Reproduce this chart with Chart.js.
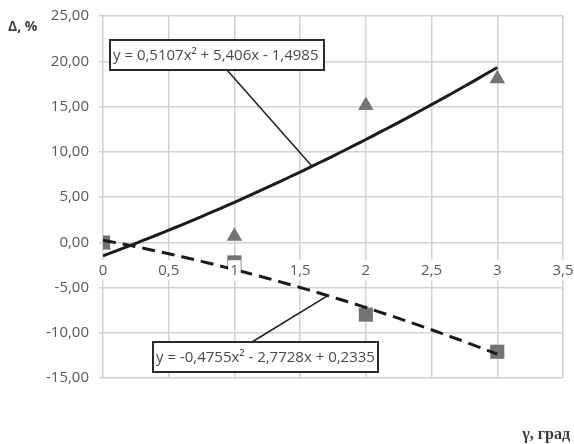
<!DOCTYPE html>
<html>
<head>
<meta charset="utf-8">
<script src="https://cdn.jsdelivr.net/npm/chart.js@4.4.1/dist/chart.umd.min.js"></script>
<style>
  html, body { margin: 0; padding: 0; background: #ffffff; }
  #wrap { position: relative; width: 574px; height: 444px; }
</style>
</head>
<body>
<div id="wrap"><canvas id="chart" width="574" height="444"></canvas></div>
<script>
// Measured deviation Δ (%) against angle γ (degrees)
const angles = [0, 1, 2, 3];
const triangleValues = [-0.25, 0.67, 15.11, 18.07];
const squareValues = [-0.03, -2.23, -8.0, -12.1];

// Quadratic trend coefficients [a, b, c] for y = a·x² + b·x + c
const upperTrend = [0.5107, 5.406, -1.4985];
const lowerTrend = [-0.4755, -2.7728, 0.2335];
const upperTrendText = 'y = 0,5107x² + 5,406x - 1,4985';
const lowerTrendText = 'y = -0,4755x² - 2,7728x + 0,2335';

// Axis tick labels
const xTickValues = [0, 0.5, 1, 1.5, 2, 2.5, 3, 3.5];
const xTickLabels = ['0', '0,5', '1', '1,5', '2', '2,5', '3', '3,5'];
const yTickValues = [-15, -10, -5, 0, 5, 10, 15, 20, 25];
const yTickLabels = ['-15,00', '-10,00', '-5,00', '0,00', '5,00', '10,00', '15,00', '20,00', '25,00'];

const yAxisTitle = 'Δ, %';
const xAxisTitle = 'γ, град';

function trend(c, x) { return c[0] * x * x + c[1] * x + c[2]; }
function trendPoints(c) {
  const pts = [];
  for (let i = 0; i <= 60; i++) {
    const x = i * 0.05;
    pts.push({ x: x, y: trend(c, x) });
  }
  return pts;
}
function pairs(xs, ys) { return xs.map((x, i) => ({ x: x, y: ys[i] })); }

function labelFor(values, labels, v) {
  const i = values.findIndex(t => Math.abs(t - v) < 1e-9);
  return i >= 0 ? labels[i] : '';
}

const FONT = "'Open Sans', 'Liberation Sans', sans-serif";
const TEXT = '#595959';
const GRID = '#d2d2d2';

// Equation boxes with leader lines to the curves
const trendLabels = {
  id: 'trendLabels',
  afterDatasetsDraw(chart) {
    const ctx = chart.ctx;
    const xs = chart.scales.x, ys = chart.scales.y;
    const items = [
      { text: upperTrendText, coef: upperTrend, at: 1.59, box: [110, 40, 214, 30], anchor: [227, 70] },
      { text: lowerTrendText, coef: lowerTrend, at: 1.71, box: [153, 342, 225, 30], anchor: [252, 342] }
    ];
    ctx.save();
    items.forEach(it => {
      const px = xs.getPixelForValue(it.at);
      const py = ys.getPixelForValue(trend(it.coef, it.at));
      ctx.strokeStyle = '#1e1e1e';
      ctx.lineWidth = 1.5;
      ctx.beginPath();
      ctx.moveTo(it.anchor[0], it.anchor[1]);
      ctx.lineTo(px, py);
      ctx.stroke();
      const [bx, by, bw, bh] = it.box;
      ctx.fillStyle = '#ffffff';
      ctx.fillRect(bx, by, bw, bh);
      ctx.lineWidth = 2;
      ctx.strokeStyle = '#2a2a2a';
      ctx.strokeRect(bx, by, bw, bh);
      ctx.fillStyle = '#4a4a4a';
      ctx.font = '15px ' + FONT;
      ctx.textAlign = 'left';
      ctx.textBaseline = 'middle';
      ctx.fillText(it.text, bx + 3, by + bh / 2 + 1);
    });
    ctx.restore();
  },
  afterDraw(chart) {
    const ctx = chart.ctx;
    ctx.save();
    ctx.fillStyle = '#404040';
    ctx.font = "bold 14px 'Open Sans', 'Liberation Sans', sans-serif";
    ctx.textAlign = 'left';
    ctx.textBaseline = 'middle';
    ctx.fillText(yAxisTitle, 8, 27);
    ctx.fillStyle = '#3a3a3a';
    ctx.font = "bold 16px 'Liberation Serif', 'DejaVu Serif', serif";
    ctx.textAlign = 'right';
    ctx.fillText(xAxisTitle, 570, 435);
    ctx.restore();
  }
};

function flatFit(scale) {
  scale.height = 0;
  scale.paddingLeft = 0; scale.paddingRight = 0;
  scale.paddingTop = 0; scale.paddingBottom = 0;
}

new Chart(document.getElementById('chart'), {
  type: 'scatter',
  data: {
    datasets: [
      {
        label: 'upper trend',
        type: 'line',
        data: trendPoints(upperTrend),
        borderColor: '#1c1c1c',
        borderWidth: 3,
        pointRadius: 0,
        tension: 0,
        fill: false,
        order: 0
      },
      {
        label: 'lower trend',
        type: 'line',
        data: trendPoints(lowerTrend),
        borderColor: '#1c1c1c',
        borderWidth: 3,
        borderDash: [13, 7],
        pointRadius: 0,
        tension: 0,
        fill: false,
        order: 0
      },
      {
        label: 'squares',
        data: pairs(angles, squareValues),
        pointStyle: 'rect',
        pointRadius: 10,
        backgroundColor: '#747474',
        borderColor: '#747474',
        borderWidth: 0,
        order: 1
      },
      {
        label: 'triangles',
        data: pairs(angles, triangleValues),
        pointStyle: 'triangle',
        pointRadius: 9,
        backgroundColor: '#747474',
        borderColor: '#747474',
        borderWidth: 0,
        order: 2
      }
    ]
  },
  options: {
    responsive: false,
    animation: false,
    events: [],
    layout: { padding: { left: 0, right: 11, top: 16, bottom: 66 } },
    plugins: { legend: { display: false }, tooltip: { enabled: false } },
    scales: {
      x: {
        type: 'linear',
        position: { y: 0 },
        min: 0, max: 3.5,
        afterBuildTicks: s => { s.ticks = xTickValues.map(v => ({ value: v })); },
        afterFit: flatFit,
        grid: { color: GRID, lineWidth: 1.5, drawTicks: false },
        border: { display: false },
        ticks: { display: false }
      },
      xLabels: {
        type: 'linear',
        axis: 'x',
        position: { y: 0 },
        min: 0, max: 3.5,
        afterBuildTicks: s => { s.ticks = xTickValues.map(v => ({ value: v })); },
        afterFit: flatFit,
        grid: { display: false, drawTicks: false },
        border: { display: false },
        ticks: {
          z: 1,
          padding: 19,
          color: TEXT,
          font: { family: FONT, size: 15 },
          maxRotation: 0,
          autoSkip: false,
          showLabelBackdrop: true,
          backdropColor: '#ffffff',
          backdropPadding: { top: 1, bottom: 1, left: 2, right: 2 },
          callback: v => labelFor(xTickValues, xTickLabels, v)
        }
      },
      y: {
        type: 'linear',
        min: -15, max: 25,
        afterBuildTicks: s => { s.ticks = yTickValues.map(v => ({ value: v })); },
        afterFit: s => { s.width = 103; s.paddingTop = 0; s.paddingBottom = 0; },
        grid: { color: GRID, lineWidth: 1.5, tickLength: 4 },
        border: { display: false },
        ticks: {
          padding: 10,
          color: TEXT,
          font: { family: FONT, size: 15 },
          autoSkip: false,
          callback: v => labelFor(yTickValues, yTickLabels, v)
        }
      }
    }
  },
  plugins: [trendLabels]
});
</script>
</body>
</html>
